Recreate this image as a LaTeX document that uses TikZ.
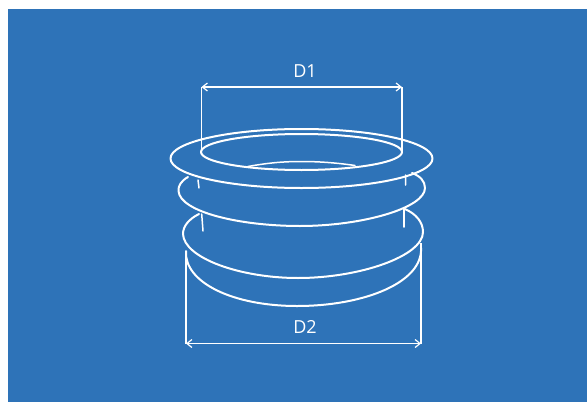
\documentclass[tikz,border=0pt]{standalone}
\usepackage{fontspec}
\setmainfont{Open Sans}
\usetikzlibrary{arrows.meta}
\definecolor{panel}{RGB}{46,115,184}
\tikzset{
  outline/.style={draw=white,line width=2pt,line cap=round,line join=round},
  thin outline/.style={draw=white,line width=1.5pt,line cap=round},
  dimline/.style={draw=white,line width=1.7pt,{Straight Barb[length=5pt,width=8pt,line width=1.2pt]}-{Straight Barb[length=5pt,width=8pt,line width=1.2pt]}},
  extline/.style={draw=white,line width=1.6pt},
  dimlabel/.style={text=white,font=\fontsize{18}{20}\selectfont,inner sep=0pt,anchor=center}
}
\begin{document}
\begin{tikzpicture}[x=1pt,y=-1pt]
\useasboundingbox (0,0) rectangle (587,402);
\fill[panel] (8,9) rectangle (587,402);
% dimension anchors
\coordinate (d1l) at (201.5,87);
\coordinate (d1r) at (402,87);
\coordinate (d1lb) at (201.5,153);
\coordinate (d1rb) at (402,153);
\coordinate (d2l) at (186,343.5);
\coordinate (d2r) at (421,343.5);
\coordinate (d2lt) at (186,251);
\coordinate (d2rt) at (421,243);
% flange
\draw[outline] (301.5,158.5) ellipse [x radius=131,y radius=29.5];
\draw[outline] (301.5,152) ellipse [x radius=100.5,y radius=18];
\draw[thin outline] (248,166.5) .. controls (270,162.5) and (285,161.5) .. (302,161.5) .. controls (320,161.5) and (338,163) .. (355,165.5);
% second ring
\draw[outline] (188,177) .. controls (181,181) and (178,186) .. (178.5,191) .. controls (180,212) and (240,226) .. (300,226) .. controls (362,226) and (425,208) .. (425,188) .. controls (425,181) and (420,176) .. (412,173);
% third ring
\draw[outline] (199,214) .. controls (189,219) and (183,226) .. (183,234) .. controls (184,258) and (240,278) .. (298,278) .. controls (360,278) and (423,256) .. (423,232) .. controls (423,222) and (416,214) .. (405,209);
% base
\draw[outline] (186,251) .. controls (184,282) and (232,306) .. (297,306) .. controls (365,306) and (423,282) .. (421,248);
% ticks
\draw[thin outline] (198,180) -- (199,188);
\draw[thin outline] (201.7,214) -- (203,231);
\draw[thin outline] (405.7,175) -- (405.5,185);
\draw[thin outline] (404,208) -- (404,227);
% dimensions
\draw[extline] (d1l) -- (d1lb);
\draw[extline] (d1r) -- (d1rb);
\draw[extline] (d2lt) -- (d2l);
\draw[extline] (d2rt) -- (d2r);
\draw[dimline] (d1l) -- (d1r);
\draw[dimline] (d2l) -- (d2r);
\node[dimlabel] (labd1) at (305,71) {D1};
\node[dimlabel] (labd2) at (305,327) {D2};
\end{tikzpicture}
\end{document}
